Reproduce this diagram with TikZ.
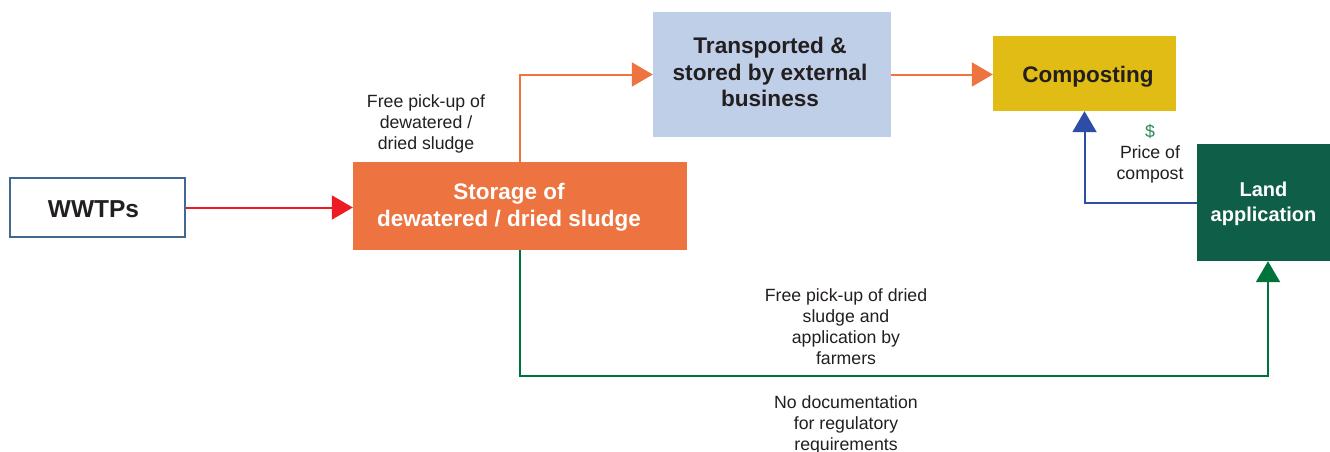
\documentclass[tikz,border=0pt]{standalone}
\usepackage{fontspec}
\setmainfont{Liberation Sans}
\usetikzlibrary{arrows.meta,calc}
\definecolor{txtdark}{HTML}{231F20}
\definecolor{wwborder}{HTML}{41698F}
\definecolor{redarr}{HTML}{ED1C24}
\definecolor{orangebox}{HTML}{ED7340}
\definecolor{bluebox}{HTML}{C0CFE8}
\definecolor{yellowbox}{HTML}{E0BC14}
\definecolor{greenbox}{HTML}{0F5F48}
\definecolor{greenarr}{HTML}{00733C}
\definecolor{bluearr}{HTML}{2E4DA7}
\definecolor{dollar}{HTML}{2E8B57}
\tikzset{
  boxnode/.style={rectangle, inner sep=0pt, align=center},
  boxtext/.style={inner sep=0pt, align=center, font=\bfseries\fontsize{22.5}{27.5}\selectfont},
  lbl/.style={inner sep=0pt, align=center, text=txtdark, font=\fontsize{17.7}{21}\selectfont},
  conn/.style={line width=2pt, -{Triangle[length=21pt,width=24pt]}},
}
\begin{document}
\begin{tikzpicture}[x=1pt,y=-1pt]
\useasboundingbox (0,0) rectangle (1330,452);
\fill[white] (0,0) rectangle (1330,452);

\node[boxnode, draw=wwborder, line width=1.2pt, fill=white, minimum width=175pt, minimum height=59pt] (ww) at (97.5,207.5) {};
\node[boxtext, text=txtdark, font=\bfseries\fontsize{24.5}{29}\selectfont] (wwt) at (93.5,209) {WWTPs};
\node[boxnode, fill=orangebox, minimum width=334pt, minimum height=88pt] (st) at (520,206) {};
\node[boxtext, text=white] (stt) at (509,207) {Storage of\\dewatered / dried sludge};
\node[boxnode, fill=bluebox, minimum width=238pt, minimum height=125pt] (tr) at (772,74.5) {};
\node[boxtext, text=txtdark, font=\bfseries\fontsize{22.6}{26.5}\selectfont] (trt) at (770,72) {Transported \&\\stored by external\\business};
\node[boxnode, fill=yellowbox, minimum width=183pt, minimum height=75pt] (co) at (1084.5,73.5) {};
\node[boxtext, text=txtdark] (cot) at (1088,76.5) {Composting};
\node[boxnode, fill=greenbox, minimum width=133pt, minimum height=117pt] (la) at (1263.5,202.5) {};
\node[boxtext, text=white, font=\bfseries\fontsize{20}{25}\selectfont] (lat) at (1263.5,203.5) {Land\\application};

\coordinate (gc) at (1268,376);

\draw[conn, redarr] (ww.east) -- (ww.east -| st.west);
\draw[conn, orangebox] (st.north) |- (tr.west);
\draw[conn, orangebox] (tr.east) -- (tr.east -| co.west);
\draw[conn, bluearr] (la.west) -| (co.south);
\draw[conn, greenarr] (st.south) |- (gc) -- (gc |- la.south);

\node[lbl] (l1) at (426,124) {Free pick-up of\\dewatered /\\dried sludge};
\node[lbl] (l2) at (1150,154) {\textcolor{dollar}{\$}\\Price of\\compost};
\node[lbl] (l3) at (846,326.5) {Free pick-up of dried\\sludge and\\application by\\farmers};
\node[lbl] (l4) at (846,424.5) {No documentation\\for regulatory\\requirements};
\end{tikzpicture}
\end{document}
